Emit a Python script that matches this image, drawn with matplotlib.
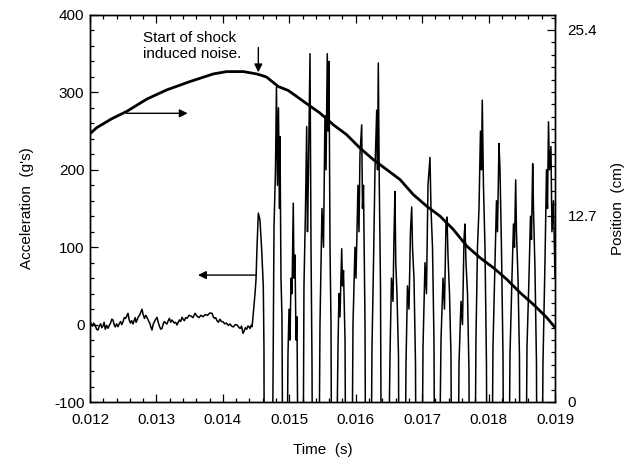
import matplotlib
matplotlib.use("Agg")
import matplotlib.pyplot as plt
from matplotlib.ticker import MultipleLocator, FixedLocator
import numpy as np

plt.rcParams['font.family'] = ['Liberation Sans', 'DejaVu Sans']
plt.rcParams['axes.unicode_minus'] = False

# ---------------- data ----------------
# Acceleration trace: time (ms) and acceleration (g's)
accel_time_ms = [
    12.000, 12.018, 12.035, 12.055, 12.075, 12.100, 12.120, 12.140, 12.160, 12.178,
    12.196, 12.213, 12.230, 12.250, 12.271, 12.290, 12.310, 12.328, 12.346, 12.363,
    12.380, 12.400, 12.421, 12.440, 12.460, 12.478, 12.497, 12.516, 12.535, 12.553,
    12.572, 12.590, 12.610, 12.628, 12.647, 12.664, 12.680, 12.694, 12.708, 12.727,
    12.745, 12.764, 12.783, 12.800, 12.820, 12.840, 12.858, 12.880, 12.900, 12.916,
    12.933, 12.950, 12.970, 12.990, 13.009, 13.027, 13.045, 13.065, 13.084, 13.102,
    13.120, 13.140, 13.159, 13.177, 13.195, 13.215, 13.234, 13.252, 13.270, 13.290,
    13.310, 13.328, 13.345, 13.365, 13.385, 13.402, 13.420, 13.440, 13.460, 13.490,
    13.520, 13.550, 13.581, 13.610, 13.640, 13.670, 13.701, 13.735, 13.770, 13.803,
    13.837, 13.856, 13.875, 13.893, 13.912, 13.933, 13.955, 13.978, 14.002, 14.028,
    14.055, 14.080, 14.107, 14.133, 14.160, 14.186, 14.213, 14.236, 14.260, 14.282,
    14.303, 14.322, 14.340, 14.360, 14.378, 14.394, 14.410, 14.425, 14.439,
    14.454, 14.484, 14.499, 14.514, 14.534, 14.559, 14.585, 14.609, 14.619,
    14.634, 14.694, 14.755, 14.770, 14.792, 14.807, 14.822, 14.837, 14.853, 14.860,
    14.875, 14.890, 14.905, 14.935, 14.950, 14.980, 14.996, 15.011, 15.026, 15.041,
    15.060, 15.071, 15.086, 15.101, 15.116, 15.146, 15.176, 15.206, 15.221, 15.244,
    15.262, 15.274, 15.289, 15.312, 15.327, 15.342, 15.372, 15.432, 15.462, 15.492,
    15.515, 15.537, 15.553, 15.572, 15.583, 15.598, 15.613, 15.628, 15.658, 15.703,
    15.733, 15.748, 15.763, 15.789, 15.801, 15.816, 15.839, 15.869, 15.929, 15.959,
    15.989, 16.004, 16.034, 16.049, 16.064, 16.090, 16.102, 16.117, 16.140, 16.170,
    16.215, 16.245, 16.268, 16.290, 16.316, 16.328, 16.340, 16.355, 16.373, 16.395,
    16.426, 16.486, 16.516, 16.538, 16.561, 16.576, 16.591, 16.603, 16.621, 16.644,
    16.666, 16.727, 16.757, 16.779, 16.802, 16.824, 16.843, 16.855, 16.877, 16.900,
    16.930, 16.983, 17.013, 17.043, 17.065, 17.088, 17.118, 17.133, 17.156, 17.178,
    17.208, 17.253, 17.284, 17.314, 17.336, 17.359, 17.374, 17.389, 17.412, 17.434,
    17.464, 17.524, 17.555, 17.585, 17.607, 17.630, 17.645, 17.660, 17.683, 17.705,
    17.735, 17.780, 17.810, 17.833, 17.856, 17.878, 17.893, 17.905, 17.923, 17.946,
    17.968, 17.999, 18.036, 18.066, 18.096, 18.119, 18.134, 18.157, 18.172, 18.194,
    18.217, 18.247, 18.292, 18.322, 18.352, 18.375, 18.390, 18.408, 18.420, 18.443,
    18.465, 18.495, 18.548, 18.578, 18.608, 18.631, 18.646, 18.664, 18.676, 18.699,
    18.721, 18.751, 18.789, 18.819, 18.849, 18.872, 18.887, 18.902, 18.917, 18.939,
    18.954, 18.977, 19.000,
]
accel_g = [
    3.7, 1, -2, 2, -0.5, -6, -7, -2, 1, -4,
    -1.8, 3, -6, -1, -4.8, -1, 2, 7, 6, 0,
    -3, 1, -2.7, 1, 4, 0, 3.7, 9, 8, 11,
    14.6, 6, 2, 5, 0.8, 5, 9, 3, 6, 10,
    12, 16, 19.8, 13, 8, 12, 9.4, 5, 2, -3,
    -7, 0, 4, 7, 9.4, 3, -2, -6, -4.8, 1,
    4, 2, 0.8, 5, 8, 3, 6, 4, 2, 3,
    -0.5, 3, 6, 4, 9.4, 7, 5, 9, 8.1, 12,
    11, 9, 14.6, 11, 9, 12, 10.2, 13, 12, 15,
    14.6, 10, 8, 9, 5, 3, 7, 4, 3.7, 1,
    2, -1, 0.8, -2, -3, 0, -0.5, -3, -5, -2,
    -11.2, -8, -4, -6, -1.8, -3, -5, -1, -2.7,
    10.2, 40, 58, 100, 144, 135, 96, 49, -33,
    -700, -850, -80, 126, 200, 307, 180, 280, 150, 243,
    60, 10, -250, -700, -400, -40, 20, -20, 60, 40,
    157, 60, 90, -20, 10, -400, -850, -250, 50, 150,
    256, 120, 200, 350, 100, -50, -700, -400, 0, 150,
    100, 270, 200, 350, 250, 340, 100, 0, -700, -250,
    -30, 40, 10, 98, 50, 70, -20, -550, -400, 0,
    100, 60, 180, 120, 220, 258, 150, 180, 0, -700,
    -400, -30, 80, 200, 277, 200, 338, 180, 50, -400,
    -850, -250, -40, 60, 30, 113, 172, 80, 40, -40,
    -550, -400, -50, 50, 20, 120, 152, 100, 60, -50,
    -700, -400, -30, 80, 40, 180, 216, 150, 100, -20,
    -550, -250, -20, 60, 20, 130, 139, 90, 40, -40,
    -550, -400, -50, 30, 0, 110, 130, 80, 40, -60,
    -700, -400, -20, 100, 150, 250, 200, 290, 180, 100,
    -50, -700, -400, -30, 80, 160, 120, 234, 200, 100,
    -40, -550, -400, -40, 60, 130, 100, 187, 120, 60,
    -40, -700, -400, -30, 60, 140, 110, 208, 150, 70,
    -50, -700, -400, -50, 80, 200, 150, 262, 200, 230,
    120, 160, 60,
]

# Position trace: time (ms) and position (cm)
pos_time_ms = [
    12.000, 12.101, 12.327, 12.552, 12.854, 13.155, 13.505, 13.856, 14.058, 14.308,
    14.509, 14.585, 14.660, 14.835, 14.985, 15.112, 15.286, 15.462, 15.663, 15.864,
    16.064, 16.265, 16.466, 16.667, 16.867, 17.069, 17.269, 17.469, 17.671, 17.871,
    18.071, 18.273, 18.473, 18.673, 18.875, 19.000,
]
pos_cm = [
    18.32, 18.73, 19.34, 19.84, 20.68, 21.31, 21.88, 22.40, 22.56, 22.56,
    22.40, 22.30, 22.18, 21.54, 21.27, 20.86, 20.29, 19.73, 18.93, 18.25,
    17.34, 16.55, 15.87, 15.19, 14.16, 13.37, 12.69, 11.78, 10.65, 9.85,
    9.17, 8.38, 7.47, 6.67, 5.77, 5.09,
]

x_ticks = [0.012, 0.013, 0.014, 0.015, 0.016, 0.017, 0.018, 0.019]
x_tick_labels = ['0.012', '0.013', '0.014', '0.015', '0.016', '0.017', '0.018', '0.019']
acc_ticks = [-100, 0, 100, 200, 300, 400]
pos_ticks = [0, 12.7, 25.4]
pos_tick_labels = ['0', '12.7', '25.4']

# ---------------- figure ----------------
W, H = 626, 468
fig = plt.figure(figsize=(W / 100, H / 100), dpi=100)
ax = fig.add_axes([90 / W, 1 - 402 / H, 465 / W, 387 / H])

ax.plot(np.array(accel_time_ms) / 1000.0, accel_g, color='black', lw=1.1)
ax.set_xlim(0.012, 0.019)
ax.set_ylim(-100, 400)

ax2 = ax.twinx()
ax2.plot(np.array(pos_time_ms) / 1000.0, pos_cm, color='black', lw=2.0)
ax2.set_ylim(0, 25.4 * 387 / 372)

# ticks
ax.xaxis.set_major_locator(FixedLocator(x_ticks))
ax.set_xticklabels(x_tick_labels)
ax.xaxis.set_minor_locator(MultipleLocator(0.0002))
ax.yaxis.set_major_locator(FixedLocator(acc_ticks))
ax.yaxis.set_minor_locator(MultipleLocator(20))
ax2.yaxis.set_major_locator(FixedLocator(pos_ticks))
ax2.set_yticklabels(pos_tick_labels)
ax2.yaxis.set_minor_locator(MultipleLocator(25.4 / 30))

ax.tick_params(axis='both', which='both', direction='in', top=True, right=False,
               labelsize=11, width=0.9)
ax.tick_params(which='major', length=6)
ax.tick_params(which='minor', length=3)
ax.tick_params(axis='x', pad=8)
ax.tick_params(axis='y', pad=4)
ax2.tick_params(axis='y', which='both', direction='in', labelsize=11, width=0.9, pad=9)
ax2.tick_params(which='major', length=6)
ax2.tick_params(which='minor', length=3)

for a in (ax, ax2):
    for s in a.spines.values():
        s.set_linewidth(1.0)

# labels
ax.set_xlabel('Time  (s)', fontsize=11, va='center')
ax.xaxis.set_label_coords(0.5, -0.124)
ax.set_ylabel("Acceleration  (g's)", fontsize=11, va='center')
ax.yaxis.set_label_coords(-0.135, 0.5)
ax2.set_ylabel('Position  (cm)', fontsize=11, va='center')
ax2.yaxis.set_label_coords(1.135, 0.5)

# annotations
arrow_kw = dict(arrowstyle='-|>', color='black', lw=1.0, mutation_scale=12,
                shrinkA=0, shrinkB=0)
ax.annotate('', xy=(0.014534, 326), xytext=(0.014534, 358), arrowprops=arrow_kw)
ax.text(0.0128, 360, 'Start of shock\ninduced noise.', fontsize=11,
        ha='left', va='center')
ax.annotate('', xy=(0.01347, 273), xytext=(0.01255, 273), arrowprops=arrow_kw)
ax.annotate('', xy=(0.013626, 64), xytext=(0.014499, 64), arrowprops=arrow_kw)

fig.savefig('out.png', dpi=100)
